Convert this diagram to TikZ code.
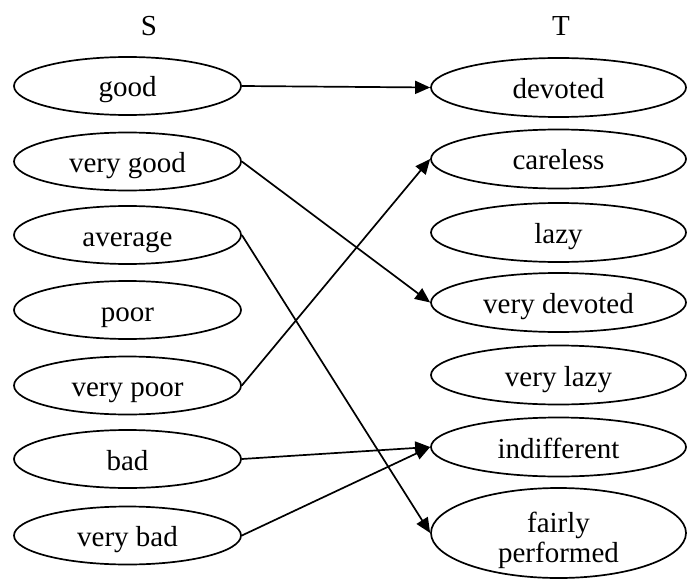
\documentclass[tikz,border=0pt]{standalone}
\usepackage{fontspec}
\setmainfont{Liberation Serif}
\usetikzlibrary{shapes.geometric,arrows.meta}
\begin{document}
\begin{tikzpicture}[x=1pt,y=-1pt,
  every node/.style={font=\fontsize{29}{29.5}\selectfont},
  lbox/.style={draw,ellipse,line width=1.7pt,inner sep=0pt,minimum width=227pt,minimum height=58pt,text height=22pt,text depth=0pt},
  rbox/.style={draw,ellipse,line width=1.7pt,inner sep=0pt,minimum width=255pt,minimum height=59pt,text height=22pt,text depth=0pt},
  link/.style={line width=1.7pt,-{Triangle[length=15pt,width=13pt]}},
  head/.style={inner sep=0pt}]
\useasboundingbox (0,0) rectangle (687,580);
\node[head] (S) at (149,26) {S};
\node[head] (T) at (561,26) {T};
\node[lbox] (good) at (127.5,86) {good};
\node[lbox] (vgood) at (127.5,161.5) {very good};
\node[lbox] (avg) at (127.5,235) {average};
\node[lbox] (poor) at (127.5,310) {poor};
\node[lbox] (vpoor) at (127.5,385.5) {very poor};
\node[lbox] (bad) at (127.5,459) {bad};
\node[lbox] (vbad) at (127.5,535.5) {very bad};
\node[rbox] (dev) at (558.5,87.5) {devoted};
\node[rbox] (care) at (558.5,159) {careless};
\node[rbox] (lazy) at (558.5,232.5) {lazy};
\node[rbox] (vdev) at (558.5,302.5) {very devoted};
\node[rbox] (vlazy) at (558.5,375) {very lazy};
\node[rbox] (indif) at (558.5,447) {indifferent};
\node[rbox,minimum height=90pt,align=center,text height=58pt,text depth=0pt] (fair) at (558.5,533) {fairly\\performed};
\draw[link] (good.east) -- (dev.west);
\draw[link] (vgood.east) -- (vdev.west);
\draw[link] (avg.east) -- (fair.west);
\draw[link] (vpoor.east) -- (care.west);
\draw[link] (bad.east) -- (indif.west);
\draw[link] (vbad.east) -- (indif.west);
\end{tikzpicture}
\end{document}
